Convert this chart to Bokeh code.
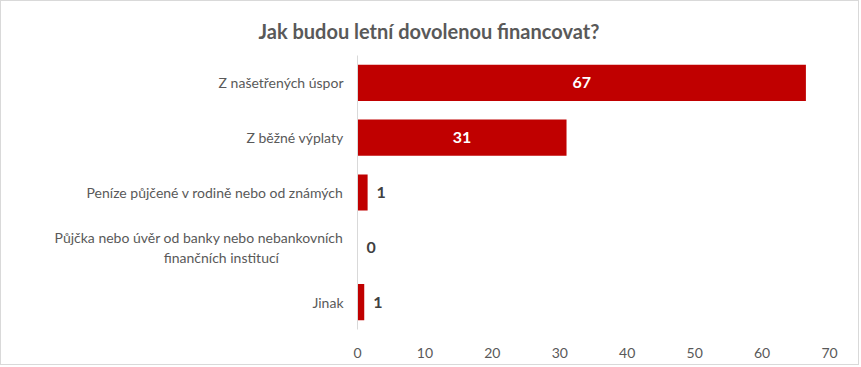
from bokeh.plotting import figure
from bokeh.models import ColumnDataSource, FactorRange, Range1d, SingleIntervalTicker
from bokeh.core.properties import value
from bokeh.embed import file_html
from bokeh.resources import INLINE

title = "Jak budou letní dovolenou financovat?"
categories = [
    "Z našetřených úspor",
    "Z běžné výplaty",
    "Peníze půjčené v rodině nebo od známých",
    "Půjčka nebo úvěr od banky nebo nebankovních\nfinančních institucí" + "\u00a0" * 18,
    "Jinak",
]
values = [66.5, 31.0, 1.5, 0.0, 1.0]
value_labels = ["67", "31", "1", "0", "1"]

FONT = "Lato"
GRAY = "#595959"

p = figure(
    width=859, height=365,
    y_range=FactorRange(*reversed(categories)),
    x_range=Range1d(0, 70),
    output_backend="svg", toolbar_location=None,
    min_border_left=356, min_border_right=31,
    min_border_top=54, min_border_bottom=37,
    title=title,
)
p.styles = {"border": "1px solid #d9d9d9"}
p.title.align = "left"
p.title.offset = -99
p.title.standoff = 26
p.title.text_font = FONT
p.title.text_font_size = "20px"
p.title.text_font_style = "bold"
p.title.text_color = GRAY

p.hbar(y=categories, right=values, height=0.66, left=0, color="#C00000", line_color=None)

inside = [i for i, v in enumerate(values) if v > 10]
outside = [i for i, v in enumerate(values) if v <= 10]
src_in = ColumnDataSource(dict(
    y=[categories[i] for i in inside],
    x=[values[i] / 2 for i in inside],
    t=[value_labels[i] for i in inside],
))
src_out = ColumnDataSource(dict(
    y=[categories[i] for i in outside],
    x=[values[i] for i in outside],
    t=[value_labels[i] for i in outside],
))
p.text(x="x", y="y", text="t", source=src_in, text_align="center", text_baseline="middle",
       text_color="white", text_font=value(FONT), text_font_style="bold", text_font_size="16px")
p.text(x="x", y="y", text="t", source=src_out, text_align="left", text_baseline="middle",
       x_offset=9, text_color="#404040", text_font=value(FONT), text_font_style="bold",
       text_font_size="16px")

p.xgrid.visible = False
p.ygrid.visible = False
p.outline_line_color = None

p.xaxis.ticker = SingleIntervalTicker(interval=10)
p.xaxis.axis_line_color = None
p.xaxis.major_tick_line_color = None
p.xaxis.minor_tick_line_color = None
p.xaxis.major_label_standoff = 12
p.xaxis.major_label_text_font = FONT
p.xaxis.major_label_text_font_size = "14px"
p.xaxis.major_label_text_color = GRAY

p.yaxis.axis_line_color = "#d9d9d9"
p.yaxis.major_tick_line_color = None
p.yaxis.major_tick_out = 0
p.yaxis.minor_tick_line_color = None
p.yaxis.major_label_standoff = 14
p.yaxis.major_label_text_font = FONT
p.yaxis.major_label_text_font_size = "14px"
p.yaxis.major_label_text_color = GRAY

open("out.html", "w").write(file_html(p, INLINE))
